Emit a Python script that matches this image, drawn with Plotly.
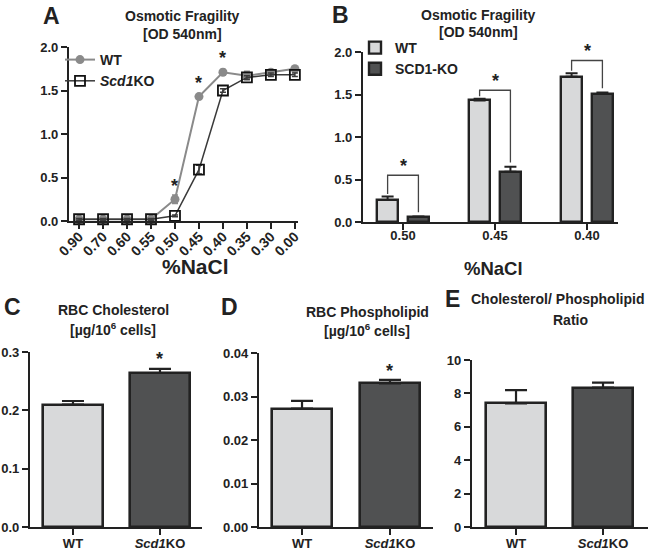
import plotly.graph_objects as go

# ---------------- data ----------------
nacl = ["0.90", "0.70", "0.60", "0.55", "0.50", "0.45", "0.40", "0.35", "0.30", "0.00"]
wt_od = [0.02, 0.02, 0.02, 0.02, 0.25, 1.43, 1.71, 1.67, 1.71, 1.75]
wt_od_err = [0.01, 0.01, 0.01, 0.01, 0.05, 0.02, 0.03, 0.05, 0.02, 0.02]
ko_od = [0.02, 0.02, 0.02, 0.02, 0.06, 0.59, 1.50, 1.65, 1.68, 1.68]
ko_od_err = [0.01, 0.01, 0.01, 0.01, 0.01, 0.05, 0.02, 0.02, 0.02, 0.02]
sig_a = ["0.50", "0.45", "0.40"]

b_cats = ["0.50", "0.45", "0.40"]
b_wt = [0.26, 1.43, 1.71]
b_wt_err = [0.04, 0.02, 0.04]
b_ko = [0.06, 0.59, 1.51]
b_ko_err = [0.005, 0.06, 0.015]
b_bracket = [0.55, 1.55, 1.90]

groups = ["WT", "Scd1KO"]
group_labels = ["WT", "<i>Scd1</i>KO"]
chol = [0.210, 0.264]
chol_err = [0.006, 0.007]
phos = [0.0272, 0.0330]
phos_err = [0.0018, 0.0008]
ratio = [7.4, 8.35]
ratio_err = [0.8, 0.3]

# ---------------- style ----------------
FONT = "Liberation Sans, Arial, sans-serif"
INK = "#222222"
WT_FILL = "#d8d9da"
KO_FILL = "#505152"
W, H = 658, 553


def px(x0, x1):
    return [x0 / W, x1 / W]


def py(ytop, ybot):
    return [1 - ybot / H, 1 - ytop / H]


fig = go.Figure()

# ---- Panel A ----
fig.add_trace(go.Scatter(
    x=nacl, y=wt_od, name="WT", mode="lines+markers",
    line=dict(color="#8a8a8a", width=2),
    marker=dict(symbol="circle", size=9, color="#8a8a8a"),
    error_y=dict(type="data", array=wt_od_err, color="#8a8a8a", thickness=1.5, width=3),
    xaxis="x", yaxis="y", legend="legend", cliponaxis=False))
fig.add_trace(go.Scatter(
    x=nacl, y=ko_od, name="<i>Scd1</i>KO", mode="lines+markers",
    line=dict(color="#3a3a3a", width=1.5),
    marker=dict(symbol="square-open", size=10, color="#111111", line=dict(width=1.8)),
    error_y=dict(type="data", array=ko_od_err, color="#3a3a3a", thickness=1.5, width=3),
    xaxis="x", yaxis="y", legend="legend", cliponaxis=False))

for c in sig_a:
    i = nacl.index(c)
    fig.add_annotation(x=i, y=wt_od[i] + 0.02, xref="x", yref="y", text="<b>*</b>",
                       showarrow=False, yanchor="bottom",
                       font=dict(size=18, family=FONT, color=INK))

# ---- Panel B ----
fig.add_trace(go.Bar(
    x=b_cats, y=b_wt, name="WT", width=0.235, offset=-0.285,
    marker=dict(color=WT_FILL, line=dict(color=INK, width=2.4)),
    error_y=dict(type="data", array=b_wt_err, arrayminus=[0] * 3, symmetric=False,
                 color=INK, thickness=2, width=6),
    xaxis="x2", yaxis="y2", legend="legend2"))
fig.add_trace(go.Bar(
    x=b_cats, y=b_ko, name="SCD1-KO", width=0.235, offset=0.05,
    marker=dict(color=KO_FILL, line=dict(color=INK, width=2.4)),
    error_y=dict(type="data", array=b_ko_err, arrayminus=[0] * 3, symmetric=False,
                 color=INK, thickness=2, width=6),
    xaxis="x2", yaxis="y2", legend="legend2"))

for i, c in enumerate(b_cats):
    xl = i - 0.285 + 0.235 / 2
    xr = i + 0.05 + 0.235 / 2
    top = b_bracket[i]
    yl = b_wt[i] + b_wt_err[i] + 0.03
    yr = b_ko[i] + b_ko_err[i] + 0.05
    fig.add_shape(type="path", xref="x2", yref="y2",
                  path=f"M {xl} {yl} L {xl} {top} L {xr} {top} L {xr} {yr}",
                  line=dict(color="#444444", width=1.3))
    fig.add_annotation(x=(xl + xr) / 2, y=top - 0.03, xref="x2", yref="y2", text="<b>*</b>",
                       showarrow=False, yanchor="bottom",
                       font=dict(size=18, family=FONT, color=INK))

# ---- Panels C, D, E ----
panels = [("x3", "y3", chol, chol_err), ("x4", "y4", phos, phos_err), ("x5", "y5", ratio, ratio_err)]
for xa, ya, vals, errs in panels:
    fig.add_trace(go.Bar(
        x=groups, y=vals, width=0.68, showlegend=False,
        marker=dict(color=[WT_FILL, KO_FILL], line=dict(color=INK, width=2.6)),
        error_y=dict(type="data", array=errs, arrayminus=[0, 0], symmetric=False,
                     color=INK, thickness=2.2, width=11),
        xaxis=xa, yaxis=ya))

fig.add_annotation(x=1, y=chol[1] + chol_err[1] - 0.003, xref="x3", yref="y3", text="<b>*</b>",
                   showarrow=False, yanchor="bottom", font=dict(size=18, family=FONT, color=INK))
fig.add_annotation(x=1, y=phos[1] + phos_err[1] - 0.0008, xref="x4", yref="y4", text="<b>*</b>",
                   showarrow=False, yanchor="bottom", font=dict(size=18, family=FONT, color=INK))

# ---------------- axes ----------------
tickfont = dict(family=FONT, size=13, color=INK, weight="bold")
common = dict(showline=True, linecolor=INK, linewidth=2.2, ticks="outside", tickcolor=INK,
              tickwidth=2, ticklen=6, showgrid=False, zeroline=False, tickfont=tickfont,
              automargin=False)
xcommon = dict(common, ticklabelstandoff=-3)

legfont = dict(family=FONT, size=14, color=INK, weight="bold")
layout = dict(
    width=W, height=H, margin=dict(l=0, r=0, t=0, b=0, autoexpand=False),
    paper_bgcolor="white", plot_bgcolor="white",
    font=dict(family=FONT, color=INK),
    xaxis=dict(domain=px(69, 298), anchor="y", type="category", range=[-0.42, 9.13],
               tickangle=-45, **dict(common, ticklabelstandoff=-6,
                                     tickfont=dict(tickfont, size=14))),
    yaxis=dict(domain=py(47, 221), anchor="x", range=[0, 2], tickvals=[0, 0.5, 1, 1.5, 2],
               tickformat=".1f", **common),
    xaxis2=dict(domain=px(363, 618), anchor="y2", type="category", range=[-0.435, 2.337],
                **dict(common, ticklabelstandoff=-6)),
    yaxis2=dict(domain=py(52, 222), anchor="x2", range=[0, 2], tickvals=[0, 0.5, 1, 1.5, 2],
                tickformat=".1f", **common),
    xaxis3=dict(domain=px(30, 202), anchor="y3", type="category", range=[-0.494, 1.483],
                tickvals=groups, ticktext=group_labels, **xcommon),
    yaxis3=dict(domain=py(352, 527), anchor="x3", range=[0, 0.3], tickvals=[0, 0.1, 0.2, 0.3],
                tickformat=".1f", **common),
    xaxis4=dict(domain=px(259, 433), anchor="y4", type="category", range=[-0.489, 1.489],
                tickvals=groups, ticktext=group_labels, **xcommon),
    yaxis4=dict(domain=py(353, 527), anchor="x4", range=[0, 0.04],
                tickvals=[0, 0.01, 0.02, 0.03, 0.04], tickformat=".2f", **common),
    xaxis5=dict(domain=px(472, 648), anchor="y5", type="category", range=[-0.506, 1.517],
                tickvals=groups, ticktext=group_labels, **xcommon),
    yaxis5=dict(domain=py(360, 527), anchor="x5", range=[0, 10], tickvals=[0, 2, 4, 6, 8, 10],
                **common),
    legend=dict(x=60 / W, y=1 - 44 / H, xanchor="left", yanchor="top", bgcolor="rgba(0,0,0,0)",
                font=legfont, itemwidth=30, tracegroupgap=0),
    legend2=dict(x=355 / W, y=1 - 32 / H, xanchor="left", yanchor="top", bgcolor="rgba(0,0,0,0)",
                 font=legfont, itemwidth=30, tracegroupgap=0),
    showlegend=True,
    bargap=0,
)
fig.update_layout(**layout)

# ---------------- text ----------------
def txt(x, y, s, size, anchor="center"):
    fig.add_annotation(x=x / W, y=1 - y / H, xref="paper", yref="paper", text=s, showarrow=False,
                       xanchor=anchor, yanchor="middle",
                       font=dict(family=FONT, size=size, color=INK))

# panel letters
txt(51, 16, "<b>A</b>", 23)
txt(340, 15, "<b>B</b>", 23)
txt(12, 307, "<b>C</b>", 23)
txt(229, 307, "<b>D</b>", 23)
txt(452, 299, "<b>E</b>", 23)

# panel titles
txt(182, 16, "<b>Osmotic Fragility</b>", 14)
txt(182, 34, "<b>[OD 540nm]</b>", 14)
txt(479, 15, "<b>Osmotic Fragility</b>", 14)
txt(479, 32, "<b>[OD 540nm]</b>", 14)
txt(113, 310, "<b>RBC Cholesterol</b>", 14)
txt(113, 329, "<b>[µg/10<sup>6</sup> cells]</b>", 14)
txt(367, 312, "<b>RBC Phospholipid</b>", 14)
txt(367, 330, "<b>[µg/10<sup>6</sup> cells]</b>", 14)
txt(557, 299, "<b>Cholesterol/ Phospholipid</b>", 14)
txt(570, 320, "<b>Ratio</b>", 14)

# axis titles
txt(195, 267, "<b>%NaCl</b>", 21)
txt(493, 268, "<b>%NaCl</b>", 18.5)

fig.write_html("out.html", config={"displayModeBar": False},
               post_script="document.body.style.margin='0px';document.body.style.overflow='hidden';")
